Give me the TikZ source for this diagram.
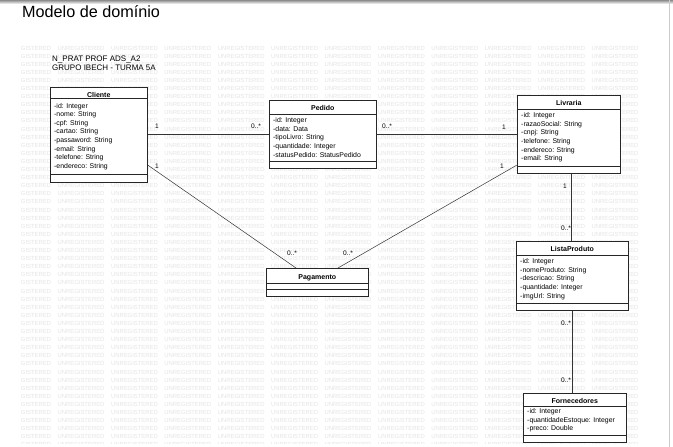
\documentclass[tikz,border=0pt]{standalone}
\usepackage{fontspec}
\setmainfont{Liberation Sans}
\usetikzlibrary{calc}
\begin{document}
\begin{tikzpicture}[x=1pt,y=-1pt,
  classbox/.style={draw=black!85, line width=0.6pt, fill=white, inner sep=0pt, anchor=north west},
  ctitle/.style={font=\fontsize{7}{8}\selectfont\bfseries, inner sep=0pt, anchor=base},
  attr/.style={font=\fontsize{6.9}{8}\selectfont, inner sep=0pt, anchor=base west},
  mult/.style={font=\fontsize{6.6}{7}\selectfont, inner sep=0pt},
  link/.style={draw=black!80, line width=0.5pt},
  wmark/.style={font=\fontsize{5.9}{6}\selectfont, text=black!10, inner sep=0pt, anchor=base west}]
\useasboundingbox (0,0) rectangle (673,447);
\fill[white] (0,0) rectangle (673,447);
% page edge shading
\shade[top color=black!45, bottom color=white] (0,0) rectangle (673,4);
\draw[black!20, line width=0.6pt] (669,0) -- (669,447);

% watermark grid
\begin{scope}
  \clip (21,45) rectangle (641,443);
  \foreach \r in {0,...,49} {
    \foreach \c in {0,...,11} {
      \node[wmark] (wm-\r-\c) at (4+53.4*\c, 50+8.1*\r) {UNREGISTERED};
    }
  }
\end{scope}

% heading
\node[font=\fontsize{16.2}{18}\selectfont, inner sep=0pt, anchor=base west] (heading) at (22,17.5) {Modelo de domínio};
\node[font=\fontsize{8}{9}\selectfont, inner sep=0pt, anchor=base west] (info1) at (52,61) {N\_PRAT PROF ADS\_A2};
\node[font=\fontsize{8}{9}\selectfont, inner sep=0pt, anchor=base west] (info2) at (52,70.5) {GRUPO IBECH - TURMA 5A};

% class: name, position, width, height, title, header line, attribute line, first attribute baseline, attributes
\newcommand{\umlclass}[9]{%
  \node[classbox, minimum width=#3, minimum height=#4] (#1) at (#2) {};
  \node[ctitle] (#1-title) at ($(#1.north)+(0,10)$) {#5};
  \draw[black!85, line width=0.6pt] ($(#1.north west)+(0,#6)$) -- ($(#1.north east)+(0,#6)$);
  \draw[black!85, line width=0.6pt] ($(#1.north west)+(0,#7)$) -- ($(#1.north east)+(0,#7)$);
  \foreach \t [count=\k] in {#9} {
    \node[attr] (#1-a\k) at ($(#1.north west)+(4,#8+8.65*\k-8.65)$) {\t};
  }
}

\umlclass{cliente}{50,87}{97pt}{95pt}{Cliente}{11.5}{87}{21}{-id: Integer,-nome: String,-cpf: String,-cartao: String,-passaword: String,-email: String,-telefone: String,-endereco: String}
\umlclass{pedido}{269,100}{107pt}{68pt}{Pedido}{14}{61}{22.5}{-id: Integer,-data: Data,-tipoLivro: String,-quantidade: Integer,-statusPedido: StatusPedido}
\umlclass{livraria}{517,95}{103pt}{78pt}{Livraria}{14}{71}{22.5}{-id: Integer,-razaoSocial: String,-cnpj: String,-telefone: String,-endereco: String,-email: String}
\umlclass{listaproduto}{516,241}{112pt}{69pt}{ListaProduto}{14}{62}{22.5}{-id: Integer,-nomeProduto: String,-descricao: String,-quantidade: Integer,-imgUrl: String}
\umlclass{fornecedores}{523,393}{103pt}{49pt}{Fornecedores}{13}{42}{20.5}{-id: Integer,-quantidadeEstoque: Integer,-preco: Double}

% Pagamento has no attributes
\node[classbox, minimum width=102pt, minimum height=28pt] (pagamento) at (266,268) {};
\node[ctitle] (pagamento-title) at ($(pagamento.north)+(0,11.5)$) {Pagamento};
\draw[black!85, line width=0.6pt] ($(pagamento.north west)+(0,15)$) -- ($(pagamento.north east)+(0,15)$);
\draw[black!85, line width=0.6pt] ($(pagamento.north west)+(0,21)$) -- ($(pagamento.north east)+(0,21)$);

% associations
\draw[link] (cliente.east |- pedido.west) -- (pedido.west);
\draw[link] (pedido.east) -- (pedido.east -| livraria.west);
\draw[link] ($(cliente.north east)+(0,78)$) -- ($(pagamento.north west)+(30,0)$);
\draw[link] ($(livraria.north west)+(0,70)$) -- ($(pagamento.north west)+(72,0)$);
\draw[link] ($(livraria.south west)+(54,0)$) -- ($(listaproduto.north west)+(55,0)$);
\draw[link] ($(listaproduto.south west)+(56,0)$) -- ($(fornecedores.north west)+(49,0)$);

% multiplicities
\node[mult] (m1) at (157,126) {1};
\node[mult] (m2) at (256,126) {0..*};
\node[mult] (m3) at (387,126.5) {0..*};
\node[mult] (m4) at (504,127.5) {1};
\node[mult] (m5) at (157,166.5) {1};
\node[mult] (m6) at (502,166.5) {1};
\node[mult] (m7) at (292,253.5) {0..*};
\node[mult] (m8) at (348,253.5) {0..*};
\node[mult] (m9) at (565,186) {1};
\node[mult] (m10) at (566,228) {0..*};
\node[mult] (m11) at (566,323) {0..*};
\node[mult] (m12) at (566,380) {0..*};
\end{tikzpicture}
\end{document}
